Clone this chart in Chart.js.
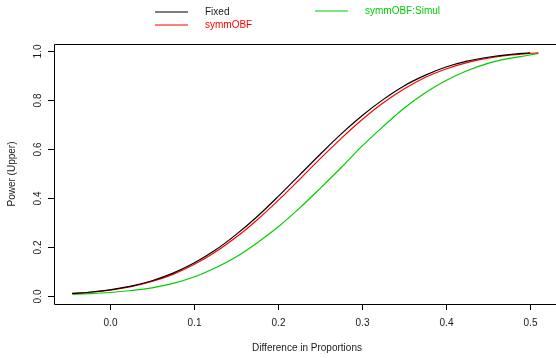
<!DOCTYPE html>
<html>
<head>
<meta charset="utf-8">
<script src="https://cdn.jsdelivr.net/npm/chart.js@4/dist/chart.umd.min.js"></script>
<style>
  html, body { margin: 0; padding: 0; background: #fff; }
  canvas { display: block; }
</style>
</head>
<body>
<canvas id="powerChart" width="556" height="358"></canvas>
<script>
// values
const diffs = [-0.045, -0.025, 0, 0.025, 0.05, 0.075, 0.1, 0.125, 0.15, 0.175, 0.2, 0.225,
    0.25, 0.275, 0.3, 0.325, 0.35, 0.375, 0.4, 0.425, 0.45, 0.475, 0.5, 0.51];
const fixedPower = [0.009, 0.014, 0.024, 0.039, 0.061, 0.092, 0.133, 0.185, 0.249, 0.322, 0.404, 0.490,
    0.576, 0.659, 0.734, 0.800, 0.856, 0.899, 0.933, 0.957, 0.973, 0.984, 0.991];
const obfPower = [0.009, 0.014, 0.023, 0.037, 0.058, 0.087, 0.127, 0.177, 0.238, 0.309, 0.388, 0.472,
    0.558, 0.641, 0.718, 0.786, 0.843, 0.890, 0.925, 0.951, 0.969, 0.981, 0.989, 0.991];
const simulPower = [0.005, 0.008, 0.013, 0.021, 0.032, 0.050, 0.076, 0.113, 0.158, 0.215, 0.280, 0.355,
    0.437, 0.522, 0.610, 0.690, 0.765, 0.827, 0.878, 0.918, 0.948, 0.968, 0.982, 0.989];
const seriesNames = ['Fixed', 'symmOBF', 'symmOBF:Simul'];
const seriesColors = ['#000000', '#ff0000', '#00cd00'];
const xTicks = [0, 0.1, 0.2, 0.3, 0.4, 0.5];
const yTicks = [0, 0.2, 0.4, 0.6, 0.8, 1.0];

const FONT = '10px "Liberation Sans", Arial, sans-serif';

function toPoints(values) {
    return values.map((v, i) => ({ x: diffs[i], y: v }));
}

// R style box, ticks, labels and legend
const rAxes = {
    id: 'rAxes',
    afterDraw(chart) {
        const ctx = chart.ctx;
        const a = chart.chartArea;
        const xs = chart.scales.x;
        const ys = chart.scales.y;
        ctx.save();
        ctx.strokeStyle = '#000';
        ctx.lineWidth = 1;
        ctx.beginPath();
        ctx.moveTo(chart.width + 2, a.top + 0.5);
        ctx.lineTo(a.left + 0.5, a.top + 0.5);
        ctx.lineTo(a.left + 0.5, a.bottom + 0.5);
        ctx.lineTo(chart.width + 2, a.bottom + 0.5);
        ctx.stroke();

        ctx.font = FONT;
        ctx.fillStyle = '#1a1a1a';
        ctx.textAlign = 'center';
        ctx.textBaseline = 'middle';
        xTicks.forEach(v => {
            const px = Math.round(xs.getPixelForValue(v)) + 0.5;
            ctx.beginPath();
            ctx.moveTo(px, a.bottom);
            ctx.lineTo(px, a.bottom + 6);
            ctx.stroke();
            ctx.fillText(v.toFixed(1), px, a.bottom + 19);
        });
        yTicks.forEach(v => {
            const py = Math.round(ys.getPixelForValue(v)) + 0.5;
            ctx.beginPath();
            ctx.moveTo(a.left, py);
            ctx.lineTo(a.left - 6, py);
            ctx.stroke();
            ctx.save();
            ctx.translate(a.left - 16, py);
            ctx.rotate(-Math.PI / 2);
            ctx.fillText(v.toFixed(1), 0, 0);
            ctx.restore();
        });

        ctx.fillText('Difference in Proportions', 307, 348);
        ctx.save();
        ctx.translate(12, 174);
        ctx.rotate(-Math.PI / 2);
        ctx.fillText('Power (Upper)', 0, 0);
        ctx.restore();

        // legend, no box
        const legendPos = [[155, 12], [155, 25], [315, 11]];
        ctx.textAlign = 'left';
        ctx.lineWidth = 1.2;
        seriesNames.forEach((name, i) => {
            const [lx, ly] = legendPos[i];
            ctx.strokeStyle = seriesColors[i];
            ctx.beginPath();
            ctx.moveTo(lx, ly);
            ctx.lineTo(lx + 33, ly);
            ctx.stroke();
            ctx.fillStyle = i === 0 ? '#1a1a1a' : seriesColors[i];
            ctx.fillText(name, lx + 50, ly);
        });
        ctx.restore();
    }
};

new Chart(document.getElementById('powerChart'), {
    type: 'scatter',
    data: {
        datasets: [
            { label: seriesNames[0], data: toPoints(fixedPower), borderColor: seriesColors[0] },
            { label: seriesNames[1], data: toPoints(obfPower), borderColor: seriesColors[1] },
            { label: seriesNames[2], data: toPoints(simulPower), borderColor: seriesColors[2] }
        ].map(d => Object.assign(d, {
            showLine: true,
            pointRadius: 0,
            borderWidth: 1.2,
            cubicInterpolationMode: 'monotone'
        }))
    },
    options: {
        responsive: false,
        animation: false,
        layout: { padding: { left: 54, top: 44, right: 0, bottom: 54 } },
        plugins: {
            legend: { display: false },
            tooltip: { enabled: false }
        },
        scales: {
            x: { type: 'linear', display: false, min: -0.0667, max: 0.531 },
            y: { type: 'linear', display: false, min: -0.034, max: 1.027 }
        }
    },
    plugins: [rAxes]
});
</script>
</body>
</html>
